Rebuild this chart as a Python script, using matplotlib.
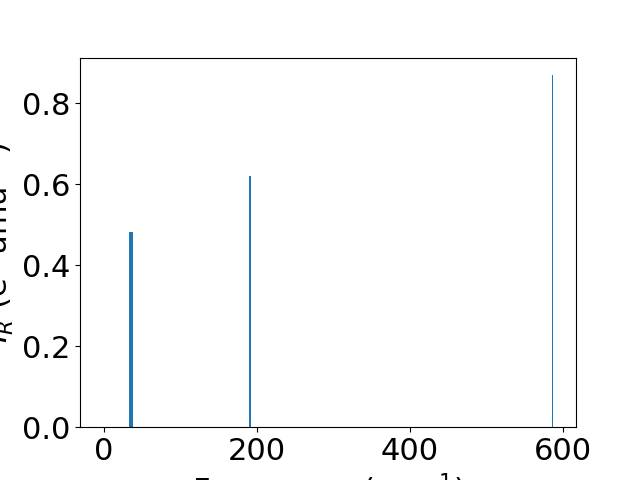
import matplotlib
matplotlib.use("Agg")
import matplotlib.pyplot as plt

# mode frequencies (cm^-1) and IR intensities
freqs = [-1.5, 35.3, 191.0, 586.6]
intensities = [0.0, 0.481, 0.620, 0.869]
widths = [0.8, 5.2, 2.6, 1.4]

plt.rcParams['font.size'] = 22

fig, ax = plt.subplots(figsize=(6.4, 4.8), dpi=100)
ax.bar(freqs, intensities, width=widths, color='#1f77b4')
ax.set_xlim(-31.4, 617)
ax.set_xticks([0, 200, 400, 600])
ax.set_yticks([0.0, 0.2, 0.4, 0.6, 0.8])
ax.set_xlabel("Frequency (cm$^{-1}$)")
ax.set_ylabel("$I_R$ (e$^2$ amu$^{-1}$)")
fig.savefig("out.png")
